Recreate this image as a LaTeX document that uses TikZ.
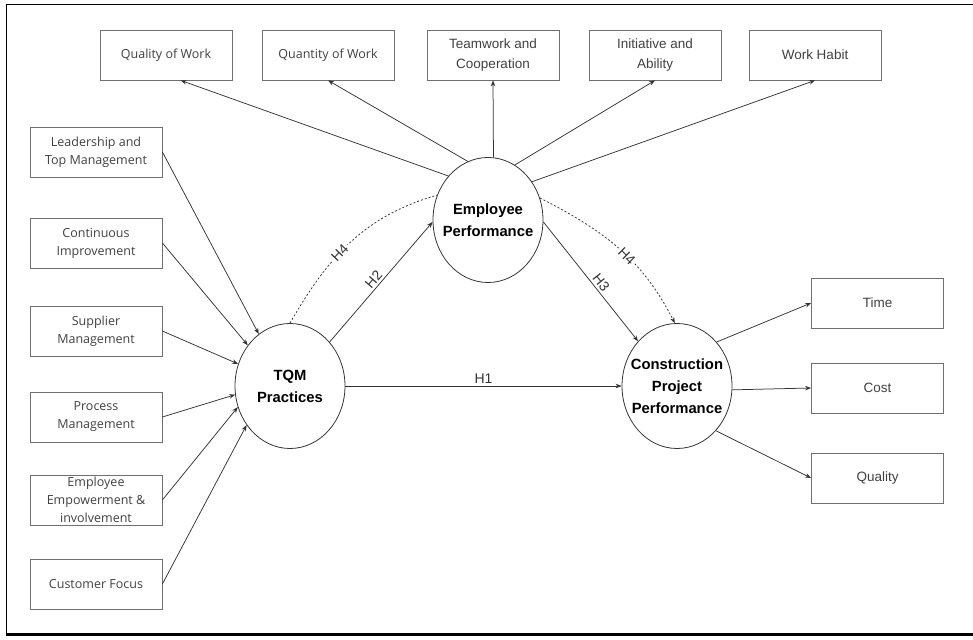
\documentclass[tikz,border=0pt]{standalone}
\usepackage{fontspec}
\setmainfont{Liberation Sans}
\newfontfamily\boxfont{Open Sans}
\usetikzlibrary{arrows.meta,shapes.geometric}
\definecolor{linegray}{HTML}{333333}
\definecolor{boxgray}{HTML}{707070}
\definecolor{textgray}{HTML}{404040}

\begin{document}
\begin{tikzpicture}[x=1pt, y=1pt]
  \useasboundingbox (0, 0) rectangle (973, 639);  % Rahmen wie im Bild.
  \draw[line width=1.5pt] (973, 634.3) -- (6.7, 634.3) -- (6.7, 4.5);
  \draw[line width=3pt] (5.9, 4.5) -- (973, 4.5);

  \tikzstyle{item}=[draw=boxgray, line width=0.8pt, minimum width=132pt, minimum height=50pt, inner sep=1pt, align=center, text=textgray]
  \tikzstyle{font1}=[font=\boxfont\fontsize{12.5}{18}\selectfont]
  \tikzstyle{font2}=[font=\fontsize{13.5}{20}\selectfont]
  \tikzstyle{construct}=[ellipse, draw=linegray, line width=0.8pt, minimum width=110pt, minimum height=125pt, inner xsep=-12pt, inner ysep=-2pt, align=center, font=\bfseries\fontsize{14.8}{22}\selectfont]
  \tikzstyle{link}=[draw=linegray, line width=0.75pt, -{Stealth[length=6pt, width=4.5pt]}]
  \tikzstyle{hyp}=[font=\fontsize{14}{16}\selectfont, text=linegray, inner sep=2pt]

  \node[construct] (tqm) at (290, 253) {TQM\\Practices};
  \node[construct] (ep)  at (488, 419) {Employee\\Performance};
  \node[construct] (cpp) at (677, 253) {Construction\\Project\\Performance};

  \node[item, font1] (quality)    at (166, 584) {Quality of Work};
  \node[item, font1] (quantity)   at (328, 584) {Quantity of Work};
  \node[item, font2] (teamwork)   at (493, 584) {Teamwork and\\Cooperation};
  \node[item, font2] (initiative) at (655, 584) {Initiative and\\Ability};
  \node[item, font2] (habit)      at (815, 584) {Work Habit};

  \node[item, font1] (lead)    at (96, 487) {Leadership and\\Top Management};
  \node[item, font1] (improve) at (96, 396) {Continuous\\Improvement};
  \node[item, font1] (supply)  at (96, 308) {Supplier\\Management};
  \node[item, font1] (process) at (96, 222) {Process\\Management};
  \node[item, font1] (empower) at (96, 139) {Employee\\Empowerment \&\\involvement};
  \node[item, font1] (focus)   at (96, 55)  {Customer Focus};

  \node[item, font2] (time) at (877.5, 336) {Time};
  \node[item, font2] (cost) at (877.5, 251) {Cost};
  \node[item, font2] (qual) at (877.5, 161) {Quality};

  \path (ep.132) edge[link] (quality.-60);
  \path (ep.109) edge[link] (quantity.south);
  \path (ep.85)  edge[link] (teamwork.south);
  \path (ep.64)  edge[link] (initiative.south);
  \path (ep.41)  edge[link] (habit.south);

  \path (lead.east)    edge[link] (tqm.121);
  \path (improve.east) edge[link] (tqm.136);
  \path (supply.east)  edge[link] (tqm.157);
  \path (process.east) edge[link] (tqm.189);
  \path (empower.east) edge[link] (tqm.202);
  \path (focus.east)   edge[link] (tqm.222);

  \path (cpp.48)  edge[link] (time.west);
  \path (cpp.-4)  edge[link] (cost.west);
  \path (cpp.-49) edge[link] (qual.west);

  \path (tqm.east) edge[link] node[hyp, above] {H1} (cpp.west);
  \path (tqm.48) edge[link] node[hyp, sloped, above, pos=0.48] {H2} (ep.182);
  \path (ep.-2) edge[link] node[hyp, sloped, above, pos=0.55] {H3} (cpp.131);
  \path (tqm.north) edge[draw=linegray, line width=0.75pt, dash pattern=on 2pt off 2pt, out=60, in=196] node[hyp, sloped, fill=white, pos=0.42] {H4} (ep.154);
  \path (ep.23) edge[link, dash pattern=on 2pt off 2pt, out=-27, in=117] node[hyp, sloped, fill=white, pos=0.56] {H4} (cpp.92);
\end{tikzpicture}
\end{document}
